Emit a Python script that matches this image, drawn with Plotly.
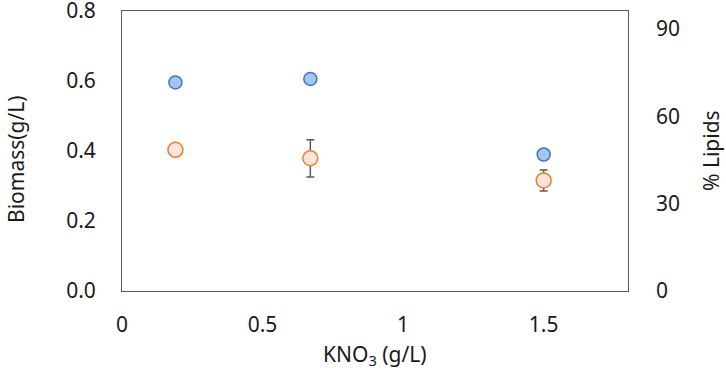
import plotly.graph_objects as go

kno3 = [0.19, 0.67, 1.5]
biomass = [0.596, 0.606, 0.39]
lipids = [48.5, 45.6, 38.0]
lipids_err = [0.0, 6.4, 3.6]

x_ticks = [0, 0.5, 1, 1.5]
x_ticktext = ["0", "0.5", "1", "1.5"]
y_ticks = [0, 0.2, 0.4, 0.6, 0.8]
y_ticktext = ["0.0", "0.2", "0.4", "0.6", "0.8"]
y2_ticks = [0, 30, 60, 90]

FONT = "Noto Sans"
axcol = "#595959"
txtcol = "#1a1a1a"
FS = 21

W, H = 726, 377
L, T, R, B = 122, 11, 98, 86
pw, ph = W - L - R, H - T - B

def px(xabs):
    return (xabs - L) / pw

def py(yabs):
    return (H - B - yabs) / ph

fig = go.Figure()
fig.add_trace(go.Scatter(
    x=kno3, y=biomass, mode="markers", name="Biomass",
    marker=dict(size=13, color="#A4C6EC", line=dict(color="#4472C4", width=1.5)),
))
fig.add_trace(go.Scatter(
    x=kno3, y=lipids, mode="markers", name="% Lipids", yaxis="y2",
    marker=dict(size=15, color="#FCE4D6", line=dict(color="#ED7D31", width=1.5)),
    error_y=dict(type="data", array=lipids_err, visible=True, color=axcol, thickness=1.5, width=4),
))

fig.update_layout(
    width=W, height=H,
    margin=dict(l=L, r=R, t=T, b=B, autoexpand=False),
    paper_bgcolor="white", plot_bgcolor="white",
    showlegend=False,
    font=dict(family=FONT, size=FS, color=txtcol),
    xaxis=dict(
        range=[0, 1.8], tickvals=x_ticks, ticktext=x_ticktext, automargin=False,
        showgrid=False, zeroline=False, showline=True, mirror=True,
        linecolor=axcol, linewidth=1, ticks="", ticklabelstandoff=15,
        ticklabeloverflow="allow",
    ),
    yaxis=dict(
        range=[0, 0.8], tickvals=y_ticks, ticktext=y_ticktext, automargin=False,
        showgrid=False, zeroline=False, showline=True, mirror=True,
        linecolor=axcol, linewidth=1, ticks="", ticklabelstandoff=21,
        ticklabeloverflow="allow",
    ),
    yaxis2=dict(
        range=[0, 96.2], tickvals=y2_ticks, overlaying="y", side="right", automargin=False,
        showgrid=False, zeroline=False, showline=False, ticks="", ticklabelstandoff=27,
        ticklabeloverflow="allow",
    ),
    annotations=[
        dict(text="KNO<sub>3</sub> (g/L)", xref="paper", yref="paper",
             x=px(375), y=py(355), showarrow=False, xanchor="center", yanchor="middle",
             font=dict(size=FS)),
        dict(text="Biomass(g/L)", xref="paper", yref="paper", textangle=-90,
             x=px(16), y=py(159), showarrow=False, xanchor="center", yanchor="middle",
             font=dict(size=FS)),
        dict(text="% Lipids", xref="paper", yref="paper", textangle=-90,
             x=px(711), y=py(151), showarrow=False, xanchor="center", yanchor="middle",
             font=dict(size=FS)),
    ],
)

fig.write_html("out.html", config={"displayModeBar": False},
               post_script="document.body.style.margin='0';document.body.style.overflow='hidden';")
